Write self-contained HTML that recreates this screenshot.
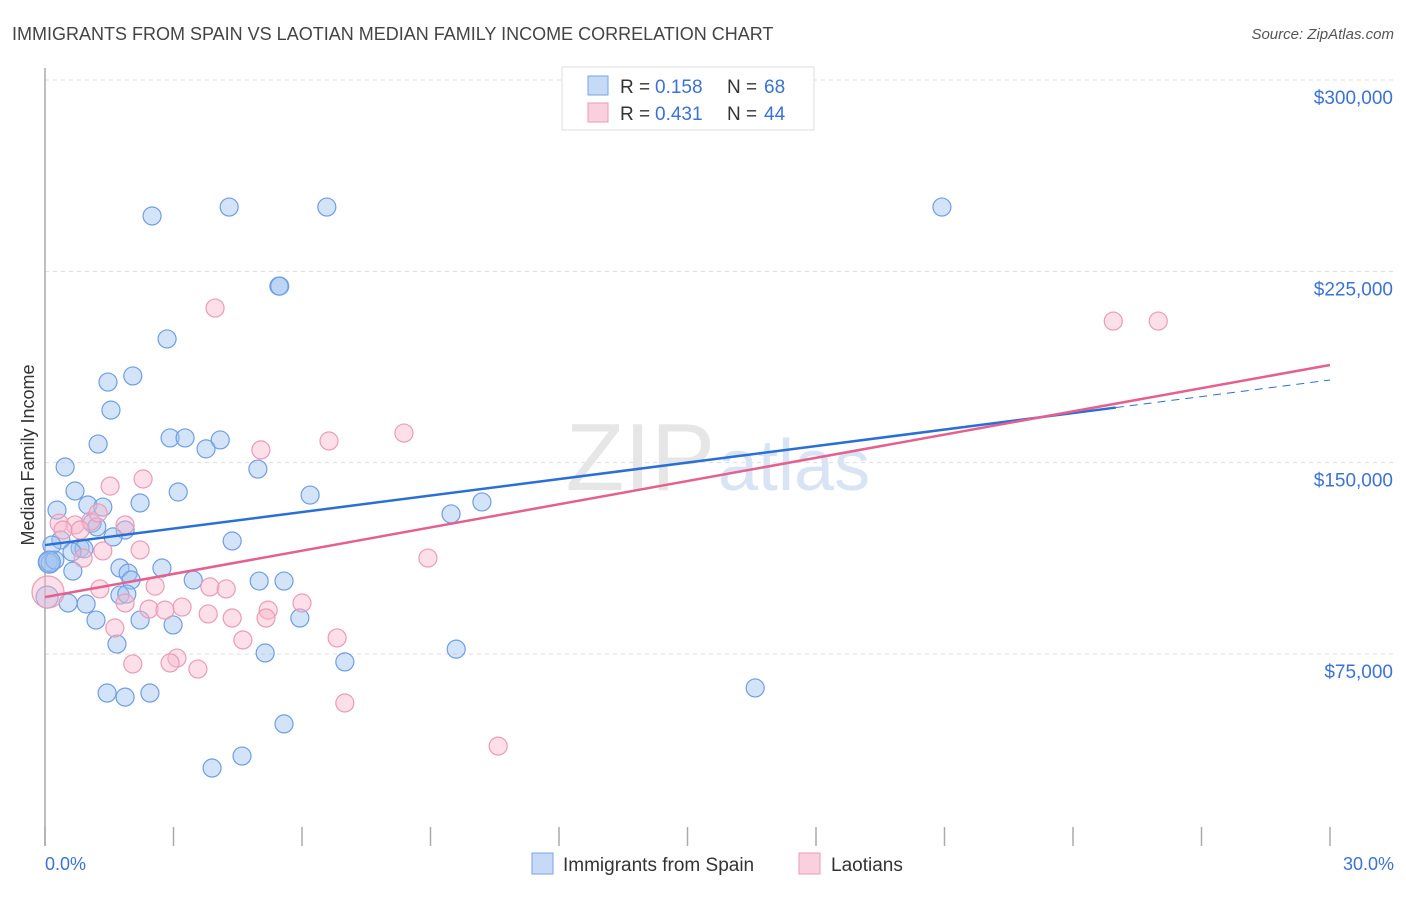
<!DOCTYPE html>
<html><head><meta charset="utf-8"><style>
body{margin:0;background:#fff;font-family:"Liberation Sans",sans-serif}
svg text{font-family:"Liberation Sans",sans-serif}
</style></head><body>
<svg width="1406" height="892" xmlns="http://www.w3.org/2000/svg">
<text x="12" y="40" font-size="18" fill="#444">IMMIGRANTS FROM SPAIN VS LAOTIAN MEDIAN FAMILY INCOME CORRELATION CHART</text>
<text x="1394" y="39" font-size="15" fill="#555" font-style="italic" text-anchor="end">Source: ZipAtlas.com</text>
<g id="grid"></g>
<text x="715" y="490" font-size="96" fill="#e6e6e6" text-anchor="end" font-family="Liberation Serif">ZIP</text>
<text x="718" y="490" font-size="72" fill="#d8e4f4">atlas</text>
<line x1="45" y1="68" x2="45" y2="846" stroke="#aaa" stroke-width="1.5"/>
<g id="ticks"></g>
<text x="34" y="455" font-size="18" fill="#333" text-anchor="middle" transform="rotate(-90 34 455)">Median Family Income</text>
<text x="45" y="870" font-size="18" fill="#3a72d8">0.0%</text>
<text x="1394" y="870" font-size="18" fill="#3a72d8" text-anchor="end">30.0%</text>
<g id="pts"></g>
<g id="lines"></g>
<g>
<rect x="562" y="67" width="252" height="63" fill="#fff" stroke="#ddd"/>
<rect x="588" y="76" width="20" height="19" fill="#c6daf7" stroke="#7aa3e6"/>
<rect x="588" y="103" width="20" height="19" fill="#fbd0de" stroke="#ee9ab6"/>
<text x="620" y="93" font-size="19" fill="#333">R =</text>
<text x="655" y="93" font-size="19" fill="#3a72d8">0.158</text>
<text x="727" y="93" font-size="19" fill="#333">N =</text>
<text x="764" y="93" font-size="19" fill="#3a72d8">68</text>
<text x="620" y="120" font-size="19" fill="#333">R =</text>
<text x="655" y="120" font-size="19" fill="#3a72d8">0.431</text>
<text x="727" y="120" font-size="19" fill="#333">N =</text>
<text x="764" y="120" font-size="19" fill="#3a72d8">44</text>
</g>
<g>
<rect x="532" y="853" width="21" height="21" fill="#c6daf7" stroke="#7aa3e6"/>
<text x="563" y="871" font-size="19" fill="#333">Immigrants from Spain</text>
<rect x="799" y="853" width="21" height="21" fill="#fbd0de" stroke="#ee9ab6"/>
<text x="831" y="871" font-size="19" fill="#333">Laotians</text>
</g>
</svg>
<script>
const yTicks=[75000,150000,225000,300000];
const yTickLabels=["$75,000","$150,000","$225,000","$300,000"];
const xTicks=[0,3,6,9,12,15,18,21,24,27,30];
const blueX=[2.50,4.30,6.58,20.94,5.46,5.48,2.85,2.05,1.47,1.54,1.24,2.92,3.27,4.09,3.76,4.97,0.47,0.70,3.11,6.19,10.20,9.48,2.22,1.00,1.35,0.28,1.10,1.21,1.87,1.59,4.37,0.37,0.16,0.82,0.91,0.63,0.07,0.12,0.65,1.75,2.73,1.94,2.01,3.46,5.00,5.58,1.75,1.91,0.05,0.54,0.96,1.19,2.22,2.99,5.95,1.68,5.14,9.60,7.00,16.58,1.45,1.87,2.45,5.58,3.90,4.60,0.23,0.10];
const blueY=[246700,250200,250200,250200,219200,219200,198500,184000,181600,170600,157300,159700,159700,158900,155400,147500,148300,138900,138500,137300,134600,129900,134200,133400,132600,131400,126300,124800,123600,120900,119300,119700,117700,116500,116200,115000,111100,110700,107500,108700,108700,106700,104000,104000,103600,103600,98100,98500,97300,95000,94600,88300,88300,86400,89100,78900,75400,76900,71900,61700,59700,58100,59700,47600,30300,35000,111800,111000];
const blueR=[9,9,9,9,9,9,9,9,9,9,9,9,9,9,9,9,9,9,9,9,9,9,9,9,9,9,9,9,9,9,9,9,9,9,9,9,9,9,9,9,9,9,9,9,9,9,9,9,11,9,9,9,9,9,9,9,9,9,9,9,9,9,9,9,9,9,9,11];
const pinkX=[3.97,24.94,25.99,8.38,5.04,6.63,2.29,1.52,0.33,0.70,1.07,0.42,1.87,1.24,2.22,1.35,0.89,8.94,0.07,2.57,1.28,1.87,3.20,2.43,2.80,3.81,3.85,4.23,5.21,6.00,5.16,4.37,1.63,4.62,6.82,3.08,2.92,2.05,3.57,7.00,10.58,0.82];
const pinkY=[210600,205500,205500,161600,155000,158500,143600,140800,126300,125600,127100,123600,125600,130300,115800,115400,112600,112600,99300,101600,100500,95000,93400,92600,92200,90700,101300,100500,92200,95000,89100,89100,85200,80500,81300,73400,71500,71100,69100,55800,38900,123600];
const pinkR=[9,9,9,9,9,9,9,9,9,9,9,9,9,9,9,9,9,9,16,9,9,9,9,9,9,9,9,9,9,9,9,9,9,9,9,9,9,9,9,9,9,9];
const blueLine={x0:0,y0:117700,x1:25,y1:171600,x2:30,y2:182400};
const pinkLine={x0:0,y0:97300,x1:30,y1:188300};
const NS="http://www.w3.org/2000/svg";
const X=v=>45+v*(1285/30);
const Y=v=>80+(300000-v)*(574/225000);
function mk(t,a,p){const e=document.createElementNS(NS,t);for(const k in a)e.setAttribute(k,a[k]);p.appendChild(e);return e;}
const grid=document.getElementById('grid');
yTicks.forEach((v,i)=>{
 const l=mk('line',{x1:45,x2:1394,y1:Y(v),y2:Y(v),stroke:'#ddd','stroke-dasharray':'4,4'},grid);
 
 
 const t=mk('text',{x:1393,y:Y(v)+24,'font-size':19,fill:'#3a72d8','text-anchor':'end'},grid);
 t.textContent=yTickLabels[i];
 
 
});
const ticks=document.getElementById('ticks');
xTicks.forEach(v=>{
 const l=mk('line',{x1:X(v),x2:X(v),y1:827,y2:846,stroke:'#aaa','stroke-width':1.5},ticks);
 
 
});
const pts=document.getElementById('pts');
blueX.forEach((v,i)=>{
 const c=mk('circle',{cx:X(v),cy:Y(blueY[i]),r:blueR[i],fill:'rgba(160,195,240,0.45)',stroke:'#6f9ee3','stroke-width':1.2},pts);
 
 
});
pinkX.forEach((v,i)=>{
 const c=mk('circle',{cx:X(v),cy:Y(pinkY[i]),r:pinkR[i],fill:'rgba(248,185,205,0.45)',stroke:'#eb9bb6','stroke-width':1.2},pts);
 
 
});
const lines=document.getElementById('lines');
let l1=mk('line',{x1:X(blueLine.x0),y1:Y(blueLine.y0),x2:X(blueLine.x1),y2:Y(blueLine.y1),stroke:'#2a6fd6','stroke-width':2.5},lines);


let l2=mk('line',{x1:X(blueLine.x1),y1:Y(blueLine.y1),x2:X(blueLine.x2),y2:Y(blueLine.y2),stroke:'#2a6fd6','stroke-width':1,'stroke-dasharray':'8,6'},lines);


let l3=mk('line',{x1:X(pinkLine.x0),y1:Y(pinkLine.y0),x2:X(pinkLine.x1),y2:Y(pinkLine.y1),stroke:'#e5608e','stroke-width':2.5},lines);


</script>
</body></html>
